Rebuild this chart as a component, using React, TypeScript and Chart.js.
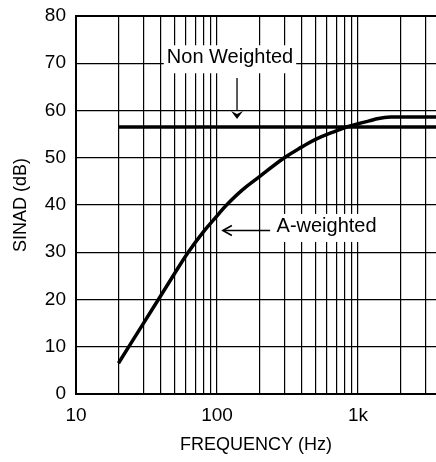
import React, { useEffect, useRef } from "react";
import { Chart, registerables } from "chart.js";

Chart.register(...registerables);

// ---- data ----
const freqA: number[] = [20, 30, 38.4, 50, 62.5, 80, 100, 115, 150, 200, 300, 400, 500, 700, 830, 1000, 1200, 1400, 1700, 2000, 3570];
const sinadA: number[] = [6.5, 14.9, 20, 25.5, 30.0, 34.3, 37.7, 39.8, 43.1, 46.0, 50, 52.3, 53.9, 55.7, 56.5, 57.2, 57.8, 58.3, 58.6, 58.6, 58.6];
const freqNW: number[] = [20, 3570];
const sinadNW: number[] = [56.5, 56.5];

const xMin = 10;
const xMax = 3570;
const yMin = 0;
const yMax = 80;
const xGridValues: number[] = [10, 20, 30, 40, 50, 60, 70, 80, 90, 100, 200, 300, 400, 500, 600, 700, 800, 900, 1000, 2000, 3000];
const xTickLabels: Record<number, string> = { 10: "10", 100: "100", 1000: "1k" };

// annotation labels (data coords): text centre x (Hz), baseline y (dB)
const noteTexts: string[] = ["Non Weighted", "A-weighted"];
const noteX: number[] = [123.6, 598];
const noteY: number[] = [70, 34.3];
// arrows: from (Hz, dB) to tip (Hz, dB)
const arrowFromX: number[] = [138.6, 238];
const arrowFromY: number[] = [66.9, 34.6];
const arrowToX: number[] = [138.6, 110];
const arrowToY: number[] = [58.2, 34.6];
const arrowFilled: boolean[] = [true, false];

const FONT = "'Liberation Sans', Arial, Helvetica, sans-serif";

const annotationPlugin = {
  id: "notes",
  afterDatasetsDraw(chart: any) {
    const ctx = chart.ctx as CanvasRenderingContext2D;
    const xs = chart.scales.x;
    const ys = chart.scales.y;
    ctx.save();
    ctx.font = `20px ${FONT}`;
    ctx.textAlign = "center";
    ctx.textBaseline = "alphabetic";
    for (let i = 0; i < noteTexts.length; i++) {
      const cx = xs.getPixelForValue(noteX[i]);
      const by = ys.getPixelForValue(noteY[i]);
      const w = ctx.measureText(noteTexts[i]).width;
      ctx.fillStyle = "#fff";
      ctx.fillRect(cx - w / 2 - 3, by - 18, w + 6, 28);
      ctx.fillStyle = "#000";
      ctx.fillText(noteTexts[i], cx, by);

      const x1 = xs.getPixelForValue(arrowFromX[i]);
      const y1 = ys.getPixelForValue(arrowFromY[i]);
      const x2 = xs.getPixelForValue(arrowToX[i]);
      const y2 = ys.getPixelForValue(arrowToY[i]);
      const ang = Math.atan2(y2 - y1, x2 - x1);
      ctx.strokeStyle = "#000";
      ctx.lineWidth = 1.3;
      if (arrowFilled[i]) {
        const hl = 8, hw = 6;
        ctx.beginPath();
        ctx.moveTo(x1, y1);
        ctx.lineTo(x2 - hl * Math.cos(ang), y2 - hl * Math.sin(ang));
        ctx.stroke();
        ctx.beginPath();
        ctx.moveTo(x2, y2);
        ctx.lineTo(x2 - hl * Math.cos(ang) + hw * Math.sin(ang), y2 - hl * Math.sin(ang) - hw * Math.cos(ang));
        ctx.lineTo(x2 - 5 * Math.cos(ang), y2 - 5 * Math.sin(ang));
        ctx.lineTo(x2 - hl * Math.cos(ang) - hw * Math.sin(ang), y2 - hl * Math.sin(ang) + hw * Math.cos(ang));
        ctx.closePath();
        ctx.fillStyle = "#000";
        ctx.fill();
      } else {
        const hl = 9, hw = 5;
        ctx.beginPath();
        ctx.moveTo(x1, y1);
        ctx.lineTo(x2, y2);
        ctx.stroke();
        ctx.lineWidth = 1.6;
        ctx.beginPath();
        ctx.moveTo(x2 - hl * Math.cos(ang) + hw * Math.sin(ang), y2 - hl * Math.sin(ang) - hw * Math.cos(ang));
        ctx.lineTo(x2, y2);
        ctx.lineTo(x2 - hl * Math.cos(ang) - hw * Math.sin(ang), y2 - hl * Math.sin(ang) + hw * Math.cos(ang));
        ctx.stroke();
      }
    }
    ctx.restore();
  },
};

export default function App() {
  const ref = useRef<HTMLCanvasElement | null>(null);

  useEffect(() => {
    if (!ref.current) return;
    const chart = new Chart(ref.current, {
      type: "line",
      data: {
        datasets: [
          {
            label: "Non Weighted",
            data: freqNW.map((f, i) => ({ x: f, y: sinadNW[i] })),
            borderColor: "#000",
            borderWidth: 3.5,
            pointRadius: 0,
            fill: false,
          },
          {
            label: "A-weighted",
            data: freqA.map((f, i) => ({ x: f, y: sinadA[i] })),
            borderColor: "#000",
            borderWidth: 3.5,
            pointRadius: 0,
            fill: false,
            tension: 0.4,
          },
        ],
      },
      options: {
        animation: false,
        responsive: false,
        devicePixelRatio: 1,
        layout: { padding: { top: 16, right: 0, left: 0, bottom: 0 } },
        plugins: { legend: { display: false }, tooltip: { enabled: false } },
        scales: {
          x: {
            type: "logarithmic",
            min: xMin,
            max: xMax,
            afterBuildTicks: (scale: any) => {
              scale.ticks = xGridValues.map((v) => ({ value: v }));
            },
            afterFit: (scale: any) => {
              scale.height = 68;
              scale.paddingLeft = 0;
              scale.paddingRight = 0;
            },
            ticks: {
              autoSkip: false,
              maxRotation: 0,
              padding: 10,
              color: "#000",
              font: { family: FONT, size: 19 },
              callback: (v: any) => xTickLabels[v as number] ?? "",
            },
            grid: { color: "#000", lineWidth: 1.2, drawTicks: false },
            border: { color: "#000", width: 2 },
            title: {
              display: true,
              text: "FREQUENCY (Hz)",
              color: "#000",
              font: { family: FONT, size: 18 },
              padding: { top: 4, bottom: 6 },
            },
          },
          y: {
            min: yMin,
            max: yMax,
            afterFit: (scale: any) => {
              scale.width = 76;
              scale.paddingTop = 0;
              scale.paddingBottom = 0;
            },
            ticks: {
              stepSize: 10,
              padding: 10,
              color: "#000",
              font: { family: FONT, size: 19 },
            },
            grid: {
              color: "#000",
              drawTicks: false,
              lineWidth: (c: any) => (c.tick && c.tick.value === yMax ? 2 : 1.2),
            },
            border: { color: "#000", width: 2 },
            title: {
              display: true,
              text: "SINAD (dB)",
              color: "#000",
              font: { family: FONT, size: 18 },
              padding: { top: 10, bottom: 4 },
            },
          },
        },
      },
      plugins: [annotationPlugin],
    } as any);
    return () => chart.destroy();
  }, []);

  return (
    <div style={{ position: "fixed", left: 0, top: 0, width: 436, height: 462, background: "#fff" }}>
      <canvas ref={ref} width={436} height={462} style={{ width: 436, height: 462 }} />
    </div>
  );
}
